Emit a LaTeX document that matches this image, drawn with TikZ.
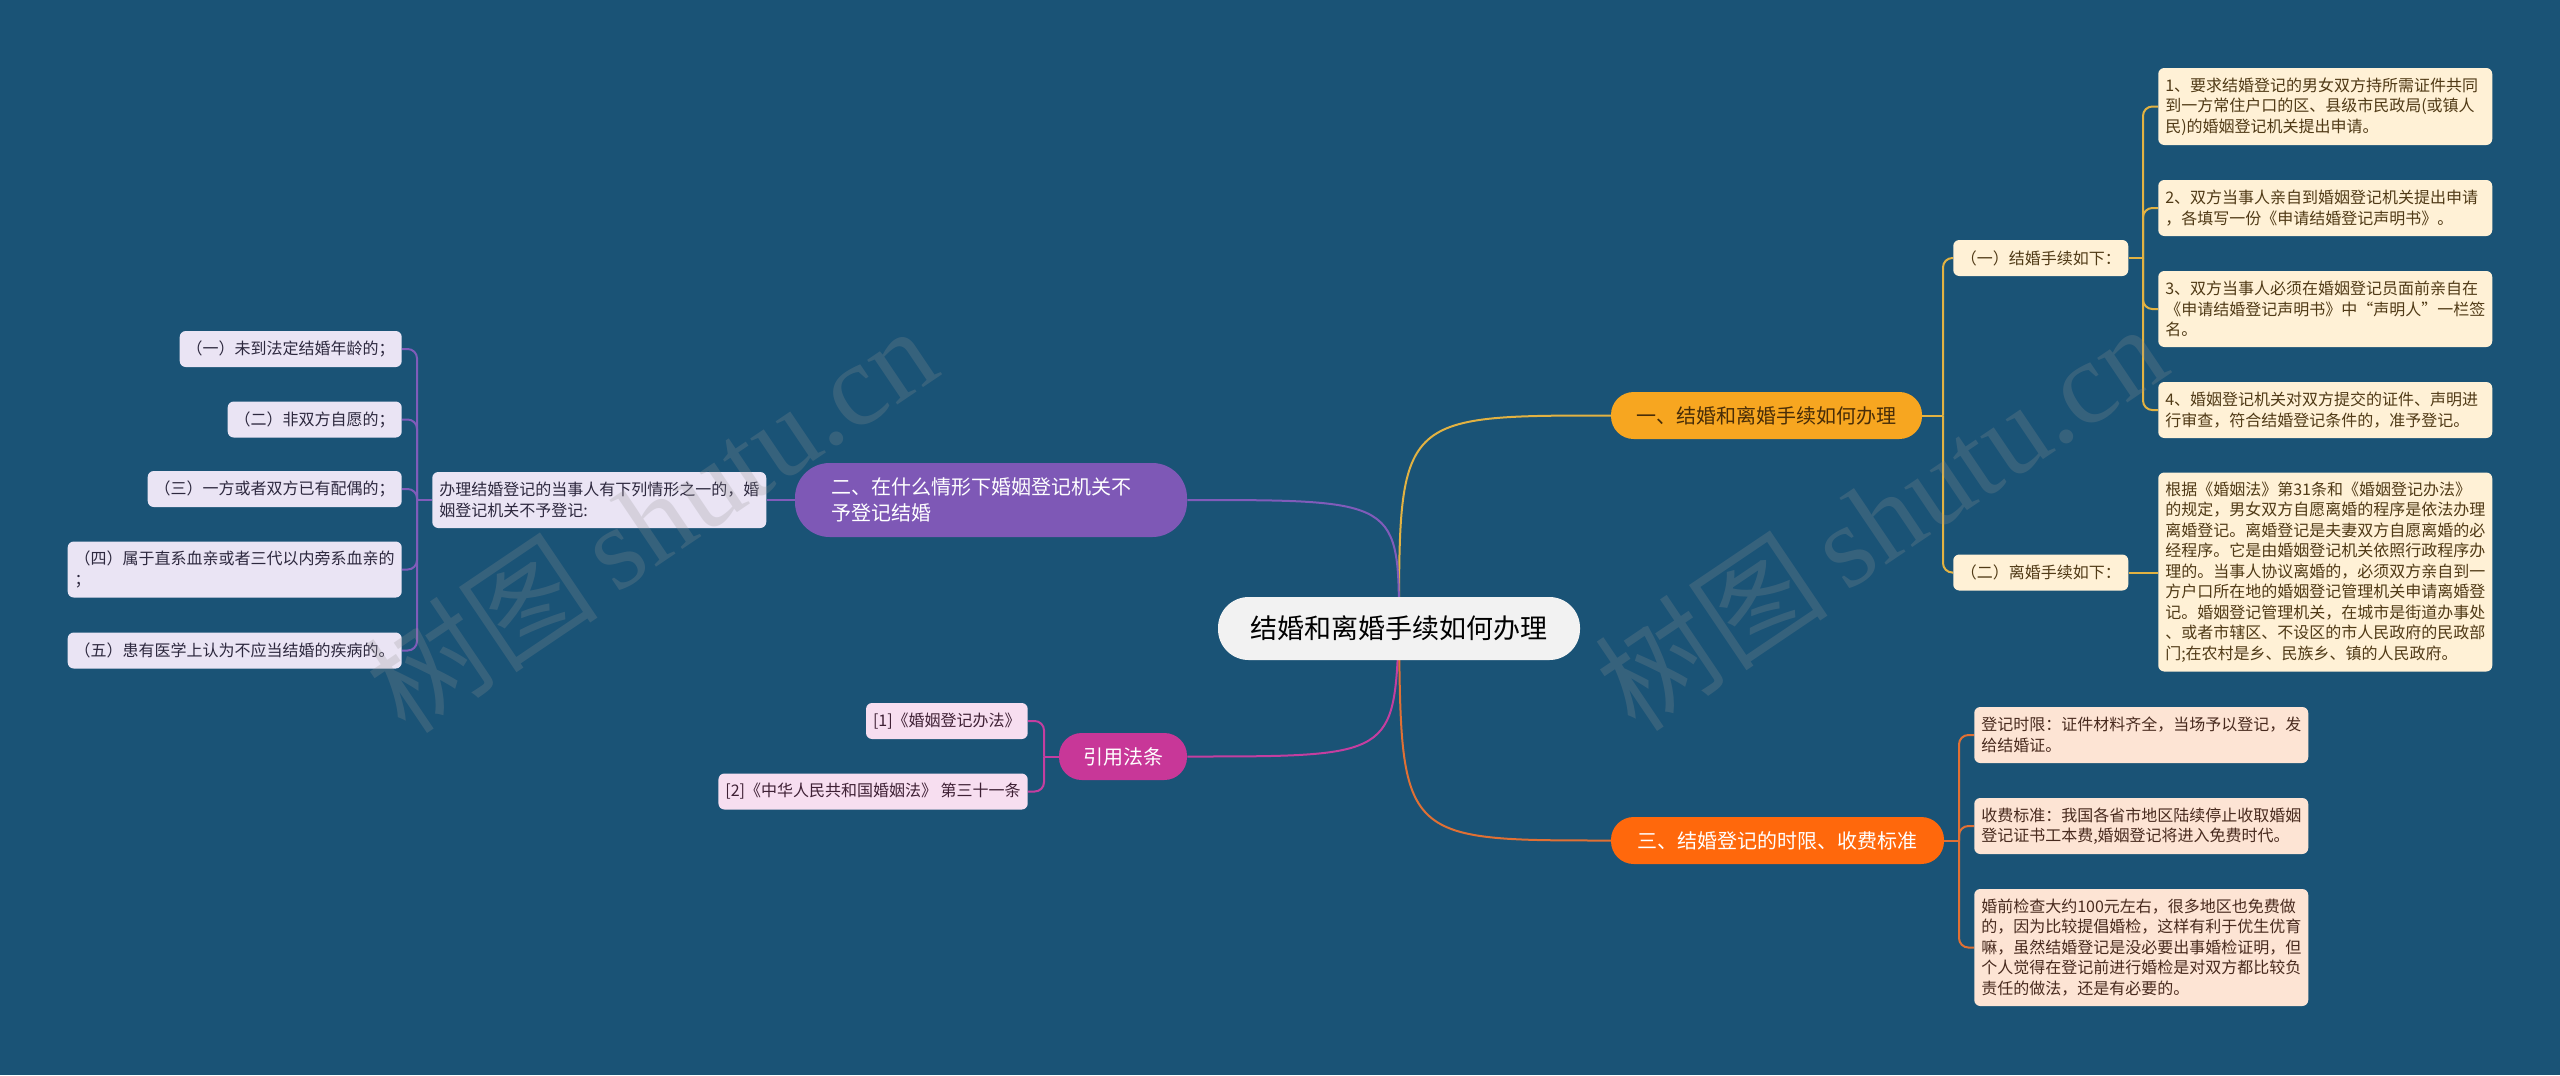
\documentclass[tikz,border=0pt]{standalone}
\usepackage{fontspec}
\setmainfont{Noto Sans CJK SC}
\newfontfamily\wmlatin{Liberation Serif}
\usetikzlibrary{calc}
\definecolor{bgblue}{RGB}{26,83,118}
\definecolor{goldln}{RGB}{226,178,66}
\definecolor{purpln}{RGB}{128,92,186}
\definecolor{magln}{RGB}{196,62,160}
\definecolor{orgln}{RGB}{224,112,52}
\definecolor{ctrfill}{RGB}{242,242,242}
\definecolor{b1fill}{RGB}{247,166,32}
\definecolor{b2fill}{RGB}{126,88,182}
\definecolor{b3fill}{RGB}{255,104,12}
\definecolor{b4fill}{RGB}{200,55,152}
\definecolor{creamfill}{RGB}{255,241,214}
\definecolor{lavfill}{RGB}{234,228,244}
\definecolor{peachfill}{RGB}{253,228,212}
\definecolor{pinkfill}{RGB}{247,222,240}
\definecolor{creamtext}{RGB}{80,58,22}
\definecolor{lavtext}{RGB}{45,40,62}
\definecolor{peachtext}{RGB}{72,42,30}
\definecolor{pinktext}{RGB}{62,32,52}
\definecolor{b1text}{RGB}{72,45,8}
\pgfdeclarelayer{paper}
\pgfdeclarelayer{lines}
\pgfdeclarelayer{marks}
\pgfsetlayers{paper,lines,main,marks}
\tikzset{
  leaf/.style={inner ysep=0pt, inner xsep=5.25pt, rounded corners=4.5pt, align=left,
    font=\fontsize{12pt}{15.4pt}\selectfont},
  cream/.style={leaf, fill=creamfill, text=creamtext},
  lav/.style={leaf, fill=lavfill, text=lavtext},
  peach/.style={leaf, fill=peachfill, text=peachtext},
  pinkbox/.style={leaf, fill=pinkfill, text=pinktext},
  branch/.style={inner sep=0pt, rounded corners=17pt, minimum height=35.25pt, align=left,
    font=\fontsize{15pt}{19.5pt}\selectfont},
  conn/.style={line width=1.5pt},
  wm/.style={font=\fontsize{88pt}{88pt}\selectfont, text=gray!85, text opacity=0.24, inner sep=0pt}
}
\begin{document}
\begin{tikzpicture}[x=0.75pt,y=-0.75pt]
\useasboundingbox (0,0) rectangle (2560,1075);
\begin{pgfonlayer}{paper}
\fill[bgblue] (0,0) rectangle (2560,1075);
\end{pgfonlayer}

% centre
\node[inner sep=0pt, rounded corners=23pt, fill=ctrfill, text={RGB:red,40;green,40;blue,40},
  minimum width=271.5pt, minimum height=47.25pt, font=\fontsize{20.25pt}{24pt}\selectfont]
  (c) at (1399,628.5) {结婚和离婚手续如何办理};

% branches
\node[branch, fill=b1fill, text=b1text, minimum width=233.25pt] (b1) at (1766.5,415.5) {一、结婚和离婚手续如何办理};
\node[branch, fill=b2fill, text=white, minimum width=294pt, minimum height=55.5pt, rounded corners=26pt,
  text width=240pt, inner xsep=0pt] (b2) at (991,500) {二、在什么情形下婚姻登记机关不\\予登记结婚};
\node[branch, fill=b3fill, text=white, minimum width=249.75pt] (b3) at (1777.5,840.5) {三、结婚登记的时限、收费标准};
\node[branch, fill=b4fill, text=white, minimum width=96pt] (b4) at (1123,756.5) {引用法条};

% branch 1 children
\node[cream, anchor=west, minimum width=131.25pt, minimum height=27pt] (n1) at (1953,258) {（一）结婚手续如下：};
\node[cream, anchor=west, minimum width=131.25pt, minimum height=27pt] (n2) at (1953,572.5) {（二）离婚手续如下：};
\node[cream, anchor=west, text width=240pt, minimum height=57.75pt] (r1) at (2158,106.5)
  {1、要求结婚登记的男女双方持所需证件共同\\到一方常住户口的区、县级市民政局(或镇人\\民)的婚姻登记机关提出申请。};
\node[cream, anchor=west, text width=240pt, minimum height=42pt] (r2) at (2158,208)
  {2、双方当事人亲自到婚姻登记机关提出申请\\，各填写一份《申请结婚登记声明书》。};
\node[cream, anchor=west, text width=240pt, minimum height=57pt] (r3) at (2158,309)
  {3、双方当事人必须在婚姻登记员面前亲自在\\《申请结婚登记声明书》中“声明人”一栏签\\名。};
\node[cream, anchor=west, text width=240pt, minimum height=42pt] (r4) at (2158,410)
  {4、婚姻登记机关对双方提交的证件、声明进\\行审查，符合结婚登记条件的，准予登记。};
\node[cream, anchor=west, text width=240pt, minimum height=149.25pt] (r5) at (2158,572)
  {根据《婚姻法》第31条和《婚姻登记办法》\\的规定，男女双方自愿离婚的程序是依法办理\\离婚登记。离婚登记是夫妻双方自愿离婚的必\\经程序。它是由婚姻登记机关依照行政程序办\\理的。当事人协议离婚的，必须双方亲自到一\\方户口所在地的婚姻登记管理机关申请离婚登\\记。婚姻登记管理机关，在城市是街道办事处\\、或者市辖区、不设区的市人民政府的民政部\\门;在农村是乡、民族乡、镇的人民政府。};

% branch 2 children
\node[lav, anchor=west, text width=240pt, minimum height=42pt] (m) at (432,500)
  {办理结婚登记的当事人有下列情形之一的，婚\\姻登记机关不予登记:};
\node[lav, anchor=east, text width=156pt, minimum height=27pt] (l1) at (402,349) {（一）未到法定结婚年龄的；};
\node[lav, anchor=east, text width=120pt, minimum height=27pt] (l2) at (402,419.5) {（二）非双方自愿的；};
\node[lav, anchor=east, text width=180pt, minimum height=27pt] (l3) at (402,489) {（三）一方或者双方已有配偶的；};
\node[lav, anchor=east, text width=240pt, minimum height=42pt] (l4) at (402,569.5) {（四）属于直系血亲或者三代以内旁系血亲的\\；};
\node[lav, anchor=east, text width=240pt, minimum height=27pt] (l5) at (402,650.5) {（五）患有医学上认为不应当结婚的疾病的。};

% branch 3 children
\node[peach, anchor=west, text width=240pt, minimum height=42pt] (a1) at (1974,735)
  {登记时限：证件材料齐全，当场予以登记，发\\给结婚证。};
\node[peach, anchor=west, text width=240pt, minimum height=42pt] (a2) at (1974,826)
  {收费标准：我国各省市地区陆续停止收取婚姻\\登记证书工本费,婚姻登记将进入免费时代。};
\node[peach, anchor=west, text width=240pt, minimum height=87.75pt] (a3) at (1974,947.5)
  {婚前检查大约100元左右，很多地区也免费做\\的，因为比较提倡婚检，这样有利于优生优育\\嘛，虽然结婚登记是没必要出事婚检证明，但\\个人觉得在登记前进行婚检是对双方都比较负\\责任的做法，还是有必要的。};

% branch 4 children
\node[pinkbox, anchor=east, minimum height=27pt] (k1) at (1028,721) {[1]《婚姻登记办法》};
\node[pinkbox, anchor=east, minimum height=27pt] (k2) at (1028,791.5) {[2]《中华人民共和国婚姻法》 第三十一条};

\begin{pgfonlayer}{lines}
  % main curves
  \draw[conn, goldln] (c.center) .. controls (1399,415.5) .. (b1.west);
  \draw[conn, purpln] (c.center) .. controls (1399,500) .. (b2.east);
  \draw[conn, magln] (c.center) .. controls (1394,756.5) .. (b4.east);
  \draw[conn, orgln] (c.center) .. controls (1401,840.5) .. (b3.west);
  % branch 1 brackets
  \draw[conn, goldln] (b1.east) -- (1943,415.5);
  \draw[conn, goldln, rounded corners=7pt] (1943,415.5) |- (n1.west);
  \draw[conn, goldln, rounded corners=7pt] (1943,415.5) |- (n2.west);
  \draw[conn, goldln] (n1.east) -- (2143,258);
  \draw[conn, goldln, rounded corners=7pt] (2143,258) |- (r1.west);
  \draw[conn, goldln, rounded corners=7pt] (2143,258) |- (r2.west);
  \draw[conn, goldln, rounded corners=7pt] (2143,258) |- (r3.west);
  \draw[conn, goldln, rounded corners=7pt] (2143,258) |- (r4.west);
  \draw[conn, goldln] (n2.east) -- (r5.west |- n2.east);
  % branch 2
  \draw[conn, purpln] (b2.west) -- (m.east);
  \draw[conn, purpln] (m.west) -- (417,500);
  \draw[conn, purpln, rounded corners=7pt] (417,500) |- (l1.east);
  \draw[conn, purpln, rounded corners=7pt] (417,500) |- (l2.east);
  \draw[conn, purpln, rounded corners=7pt] (417,500) |- (l3.east);
  \draw[conn, purpln, rounded corners=7pt] (417,500) |- (l4.east);
  \draw[conn, purpln, rounded corners=7pt] (417,500) |- (l5.east);
  % branch 3
  \draw[conn, orgln] (b3.east) -- (1959,840.5);
  \draw[conn, orgln, rounded corners=7pt] (1959,840.5) |- (a1.west);
  \draw[conn, orgln, rounded corners=7pt] (1959,840.5) |- (a2.west);
  \draw[conn, orgln, rounded corners=7pt] (1959,840.5) |- (a3.west);
  % branch 4
  \draw[conn, magln] (b4.west) -- (1044,756.5);
  \draw[conn, magln, rounded corners=7pt] (1044,756.5) |- (k1.east);
  \draw[conn, magln, rounded corners=7pt] (1044,756.5) |- (k2.east);
\end{pgfonlayer}

\begin{pgfonlayer}{marks}
  \node[wm, rotate=34] (w1) at (650,518) {树图\,{\wmlatin shutu.cn}};
  \node[wm, rotate=34] (w2) at (1880,516) {树图\,{\wmlatin shutu.cn}};
\end{pgfonlayer}
\end{tikzpicture}
\end{document}
